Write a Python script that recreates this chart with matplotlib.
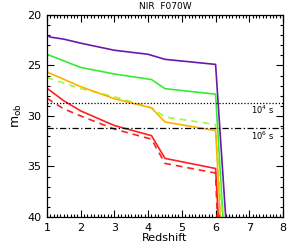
import numpy as np
import matplotlib
matplotlib.use('Agg')
import matplotlib.pyplot as plt
from matplotlib.ticker import MultipleLocator

#------------------------------------------------------------------------------#
# Data
#------------------------------------------------------------------------------#
z_purple = [1.0, 1.1, 1.5, 2.0, 3.0, 4.0, 4.5, 6.0, 6.3]
m_purple = [22.0, 22.2, 22.4, 22.8, 23.5, 23.9, 24.4, 24.9, 40.0]

z_green = [1.0, 2.0, 3.0, 4.1, 4.5, 6.0, 6.22]
m_green = [23.9, 25.2, 25.85, 26.4, 27.3, 27.85, 40.0]

z_yellow = [1.0, 2.0, 3.0, 4.1, 4.5, 6.0, 6.14]
m_yellow = [25.65, 27.1, 28.3, 29.2, 30.6, 31.45, 40.0]

z_ygdash = [1.0, 2.0, 3.0, 4.1, 4.5, 6.0, 6.2]
m_ygdash = [26.2, 27.3, 28.1, 29.2, 30.1, 30.85, 40.0]

z_red = [1.0, 1.5, 2.0, 3.0, 4.1, 4.5, 6.0, 6.08]
m_red = [27.25, 28.5, 29.5, 30.95, 31.95, 34.2, 35.2, 40.0]

z_reddash = [1.0, 1.5, 2.0, 3.0, 4.1, 4.5, 6.0, 6.05]
m_reddash = [28.25, 29.3, 30.0, 31.3, 32.3, 34.7, 35.65, 40.0]

limit_1e4 = 28.75
limit_1e6 = 31.15

#------------------------------------------------------------------------------#
# Plot
#------------------------------------------------------------------------------#
plt.rcParams['font.family'] = 'DejaVu Sans'
fig = plt.figure(figsize=(2.97, 2.48), dpi=100)
ax = fig.add_axes([0.158, 0.125, 0.795, 0.815])

ax.plot(z_purple, m_purple, color='#6a1aa8', lw=1.2)
ax.plot(z_green, m_green, color='#33ee33', lw=1.2)
ax.plot(z_ygdash, m_ygdash, color='#99ff33', lw=1.2, ls=(0, (4, 3)))
ax.plot(z_yellow, m_yellow, color='#ffb000', lw=1.2)
ax.plot(z_reddash, m_reddash, color='#ff2020', lw=1.2, ls=(0, (4, 3)))
ax.plot(z_red, m_red, color='#ff2020', lw=1.2)

ax.axhline(limit_1e4, color='k', lw=0.9, ls=(0, (1, 1.5)))
ax.axhline(limit_1e6, color='k', lw=0.9, ls=(0, (5, 2, 1, 2)))
ax.text(7.05, limit_1e4 + 0.65, r'10$^4$ s', fontsize=6, va='center')
ax.text(7.05, limit_1e6 + 0.85, r'10$^6$ s', fontsize=6, va='center')

ax.set_xlim(1, 8)
ax.set_ylim(40, 20)
ax.xaxis.set_major_locator(MultipleLocator(1))
ax.xaxis.set_minor_locator(MultipleLocator(0.1))
ax.yaxis.set_major_locator(MultipleLocator(5))
ax.yaxis.set_minor_locator(MultipleLocator(1))
ax.tick_params(which='both', direction='in', top=True, right=True, width=0.8)
ax.tick_params(which='major', length=5, labelsize=8, pad=4)
ax.tick_params(which='minor', length=2.5)
for s in ax.spines.values():
    s.set_linewidth(0.9)

ax.set_title('NIR  F070W', fontsize=6.5, pad=4)
ax.set_ylabel(r'm$_{\mathrm{ob}}$', fontsize=9, labelpad=2)
ax.set_xlabel('Redshift', fontsize=8, labelpad=0)

fig.savefig('out.png', dpi=100)
